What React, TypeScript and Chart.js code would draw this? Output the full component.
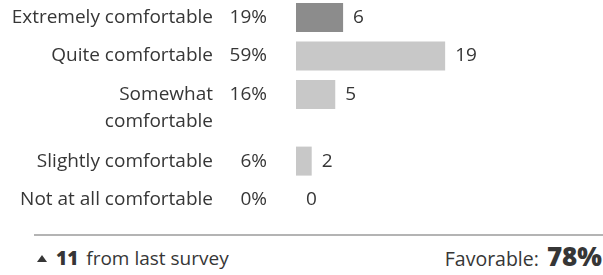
import React, { useEffect, useRef } from "react";
import { Chart, registerables } from "chart.js";

Chart.register(...registerables);

const categories: string[][] = [
  ["Extremely comfortable"],
  ["Quite comfortable"],
  ["Somewhat", "comfortable"],
  ["Slightly comfortable"],
  ["Not at all comfortable"],
];
const counts: number[] = [6, 19, 5, 2, 0];
const barColors: string[] = ["#8c8c8c", "#c8c8c8", "#c8c8c8", "#c8c8c8", "#c8c8c8"];
const changeFromLast = 11;
const favorableCount = 2; // top two categories count as favorable

const FONT = "'Open Sans', sans-serif";
const TEXT = "#363636";

export default function App() {
  const ref = useRef<HTMLCanvasElement | null>(null);

  const total = counts.reduce((a, b) => a + b, 0);
  const pcts = counts.map((c) => Math.round((c / total) * 100));
  const favorable = Math.round(
    (counts.slice(0, favorableCount).reduce((a, b) => a + b, 0) / total) * 100
  );

  useEffect(() => {
    document.body.style.margin = "0";
    if (!ref.current) return;
    const positions: number[] = [];
    let acc = 0;
    categories.forEach((lines) => {
      positions.push(acc);
      acc += 1 + 0.73 * (lines.length - 1);
    });

    const labelPlugin = {
      id: "rowLabels",
      afterDatasetsDraw(chart: any) {
        const ctx = chart.ctx;
        const xs = chart.scales.x;
        const ys = chart.scales.y;
        const left = chart.chartArea.left;
        ctx.save();
        ctx.fillStyle = TEXT;
        ctx.font = `19px ${FONT}`;
        ctx.textBaseline = "middle";
        categories.forEach((lines, i) => {
          const y = ys.getPixelForValue(positions[i]);
          ctx.textAlign = "right";
          lines.forEach((ln, j) => {
            ctx.fillText(ln, left - 83, y + j * 27);
          });
          ctx.fillText(`${pcts[i]}%`, left - 29, y);
          ctx.textAlign = "left";
          ctx.fillText(String(counts[i]), xs.getPixelForValue(counts[i]) + 10, y);
        });
        ctx.restore();
      },
    };

    const chart = new Chart(ref.current, {
      type: "bar",
      data: {
        datasets: [
          {
            data: counts.map((v, i) => ({ x: v, y: positions[i] })),
            backgroundColor: barColors,
            barThickness: 29,
            borderWidth: 0,
            inflateAmount: 0,
          },
        ],
      },
      options: {
        indexAxis: "y",
        animation: false,
        responsive: false,
        maintainAspectRatio: false,
        layout: { padding: { left: 296, right: 150, top: 0, bottom: 0 } },
        plugins: { legend: { display: false }, tooltip: { enabled: false } },
        scales: {
          x: { type: "linear", min: 0, max: 20, display: false, offset: false },
          y: { type: "linear", reverse: true, min: -0.4545, max: 5.39, display: false, offset: false },
        },
      },
      plugins: [labelPlugin],
    } as any);
    return () => chart.destroy();
  }, []);

  return (
    <div style={{ position: "relative", width: 603, height: 275, background: "#fff", fontFamily: FONT, color: TEXT }}>
      <canvas ref={ref} width={603} height={225} style={{ display: "block", width: 603, height: 225 }} />
      <div style={{ position: "absolute", left: 34, right: 0, top: 234, height: 2, background: "#b4b4b4" }} />
      <div style={{ position: "absolute", left: 37, top: 246, fontSize: 19, lineHeight: "24px", whiteSpace: "nowrap", display: "flex", alignItems: "center" }}>
        <span
          style={{
            display: "inline-block",
            width: 0,
            height: 0,
            borderLeft: "5.5px solid transparent",
            borderRight: "5.5px solid transparent",
            borderBottom: `7px solid ${TEXT}`,
            marginRight: 9,
            marginTop: 1,
          }}
        />
        <span style={{ fontWeight: 800, marginRight: 8 }}>{changeFromLast}</span>
        <span>from last survey</span>
      </div>
      <div style={{ position: "absolute", right: 1, top: 238, whiteSpace: "nowrap", display: "flex", alignItems: "baseline" }}>
        <span style={{ fontSize: 19.5, marginRight: 8 }}>Favorable:</span>
        <span style={{ fontSize: 26, fontWeight: 800 }}>{favorable}%</span>
      </div>
    </div>
  );
}
